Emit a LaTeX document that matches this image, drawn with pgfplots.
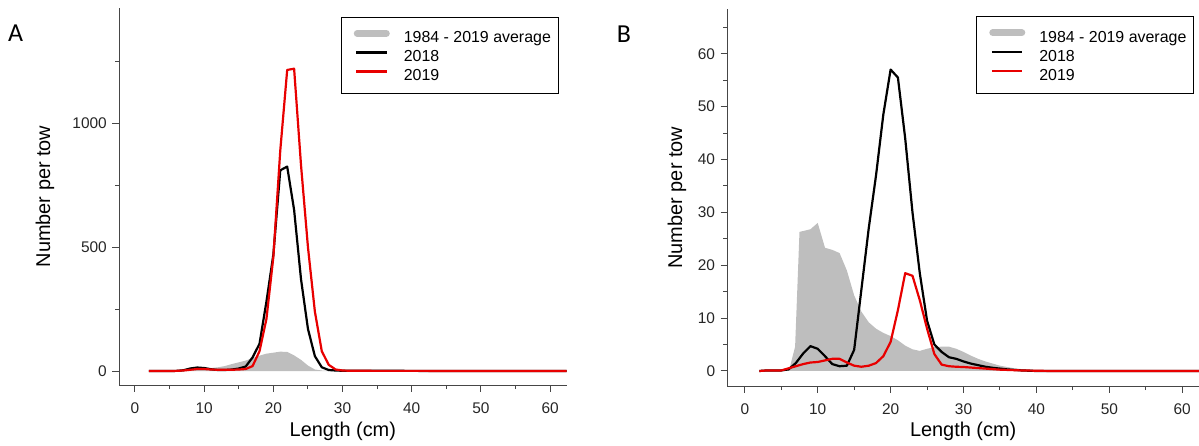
\documentclass[border=0pt]{standalone}
\usepackage{pgfplots}
\pgfplotsset{compat=1.18}
\usepackage{fontspec}
\setmainfont{Liberation Sans}
\newfontfamily\panelfont{Carlito}
\definecolor{avggray}{RGB}{190,190,190}
\definecolor{lred}{RGB}{232,0,0}
\definecolor{axgray}{RGB}{70,70,70}

\pgfplotstableread{
x y
2 0
3 0
4 0
5 0
6 1
7 5
8 15
9 16
10 14
11 12
12 15
13 20
14 28
15 35
16 42
17 52
18 62
19 70
20 74
21 78
22 77
23 63
24 45
25 22
26 6
27 2
28 1
30 0.5
35 0.2
40 0.1
45 0
62.4 0
}\avgA

\pgfplotstableread{
x y
2 0
3 0
4 0
5 0
6 0.5
7 3
8 10
9 14
10 12
11 7
12 4
13 4
14 6
15 10
16 18
17 55
18 110
19 280
20 470
21 810
22 825
23 650
24 370
25 170
26 60
27 15
28 4
29 2
30 1
35 1
40 0.5
45 0
62.4 0
}\blackA

\pgfplotstableread{
x y
2 0
3 0
4 0
5 0
6 0.5
7 2
8 5
9 8
10 8
11 6
12 5
13 5
14 5
15 6
16 8
17 20
18 80
19 210
20 460
21 890
22 1215
23 1220
24 830
25 500
26 240
27 80
28 25
29 6
30 2
31 1
35 0.5
40 0.5
45 0.3
50 0.2
62.4 0
}\redA

\pgfplotstableread{
x y
2 0
5 0
5.5 0.1
6.2 0.8
6.9 4.6
7.5 26.3
9 26.8
10 28
11 23.3
12 22.9
13 22.3
14 19
15 14.3
16 11.2
17 9.2
18 8.0
19 7.2
20 6.6
21 5.8
22 4.8
23 4.1
24 3.8
25 4.2
26 4.5
27 4.6
28 4.6
29 4.2
30 3.6
31 2.9
32 2.3
33 1.8
34 1.4
35 1.0
36 0.75
37 0.5
38 0.35
39 0.25
40 0.15
41 0.08
42 0
62.3 0
}\avgB

\pgfplotstableread{
x y
2 0
3 0.1
4 0.1
5 0.1
6 0.3
7 1.5
8 3.3
9 4.7
10 4.2
11 2.8
12 1.3
13 0.9
14 1.0
15 4.0
16 15.5
17 27
18 37
19 48.5
20 57
21 55.5
22 44
23 30
24 18.5
25 9.5
26 5
27 3.6
28 2.6
29 2.3
30 1.8
31 1.4
32 1.1
33 0.8
34 0.6
35 0.45
36 0.3
37 0.2
38 0.1
40 0
62.3 0
}\blackB

\pgfplotstableread{
x y
2 0
3 0.1
4 0.1
5 0.1
6 0.5
7 0.9
8 1.3
9 1.6
10 1.7
11 2.0
12 2.3
13 2.3
14 1.6
15 1.0
16 0.8
17 1.0
18 1.5
19 2.8
20 5.5
21 11.5
22 18.5
23 18.0
24 13.4
25 8.0
26 3.2
27 1.2
28 0.9
29 0.8
30 0.75
31 0.65
32 0.55
33 0.45
34 0.35
35 0.25
36 0.2
37 0.15
38 0.1
40 0.05
42 0
62.3 0
}\redB

\pgfplotsset{
  panel/.style={
    scale only axis,
    axis lines*=left,
    axis line style={axgray, line width=1bp},
    tick align=outside,
    major tick length=6.7bp,
    minor tick length=4bp,
    every tick/.style={axgray, line width=1bp},
    every minor tick/.style={axgray, line width=1bp},
    xtick={0,10,...,60},
    minor xtick={5,15,...,55},
    tick label style={font=\fontsize{15.5}{18}\selectfont, text=black!85},
    xticklabel style={yshift=-7bp},
    yticklabel style={xshift=-2bp},
    /pgf/number format/assume math mode=true,
    /pgf/number format/1000 sep={},
    label style={font=\fontsize{20}{24}\selectfont},
    xlabel={Length (cm)},
    ylabel={Number per tow},
    legend cell align=left,
    legend style={
      anchor=north east,
      draw=black, line width=0.8bp,
      inner xsep=7bp, inner ysep=10bp,
      font=\fontsize{16}{19}\selectfont,
      nodes={inner sep=0bp, text height=15.75bp, text depth=2.85bp},
      row sep=0.4bp,
      column sep=14bp,
    },
    legend image code/.code={%
      \path[draw=none, fill=none] (-8.3bp,0.3em) -- (30.7bp,0.3em);
      \draw[#1, line width=2.2bp] (0bp,0.3em) -- (30.7bp,0.3em);},
  },
  avgstyle/.style={fill=avggray, draw=none,
    legend image code/.code={%
      \path[draw=none, fill=none] (-8.3bp,0.3em) -- (30.7bp,0.3em);
      \draw[line width=7bp, line cap=round, draw=avggray, fill=none] (1bp,0.3em) -- (30bp,0.3em);}},
  dline/.style={line width=2.2bp, line join=round},
}

\begin{document}
\begin{tikzpicture}
\useasboundingbox (0,0) rectangle (1199bp,446bp);

\begin{axis}[panel,
  at={(119bp,61bp)}, anchor=south west,
  width=447.7bp, height=377bp,
  xmin=-2.31, xmax=62.4,
  ymin=-56.5, ymax=1465,
  ytick={0,500,1000},
  minor ytick={250,750,1250},
  xlabel style={at={(axis description cs:0.5,-0.1239)}, anchor=center},
  ylabel style={at={(axis description cs:-0.1653,0.5)}, anchor=center},
  legend style={at={(1,1)}, xshift=-8.4bp, yshift=-8.7bp},
]
\addplot[avgstyle] table {\avgA} \closedcycle;
\addlegendentry{1984 - 2019 average}
\addplot[black, dline] table {\blackA};
\addlegendentry{2018}
\addplot[lred, dline] table {\redA};
\addlegendentry{2019}
\end{axis}

\begin{axis}[panel,
  at={(727.3bp,60bp)}, anchor=south west,
  width=471.7bp, height=376.7bp,
  xmin=-2.4, xmax=62.3,
  ymin=-2.84, ymax=68.4,
  ytick={0,10,...,60},
  minor ytick={5,15,...,65},
  xlabel style={at={(axis description cs:0.5,-0.1213)}, anchor=center},
  ylabel style={at={(axis description cs:-0.1066,0.5)}, anchor=center},
  legend style={at={(1,1)}, xshift=-5.2bp, yshift=-6.7bp},
]
\addplot[avgstyle] table {\avgB} \closedcycle;
\addlegendentry{1984 - 2019 average}
\addplot[black, dline] table {\blackB};
\addlegendentry{2018}
\addplot[lred, dline] table {\redB};
\addlegendentry{2019}
\end{axis}

\node[font=\panelfont\fontsize{26}{30}\selectfont] at (15.7bp,413bp) {A};
\node[font=\panelfont\fontsize{26}{30}\selectfont] at (624bp,412bp) {B};
\end{tikzpicture}
\end{document}
